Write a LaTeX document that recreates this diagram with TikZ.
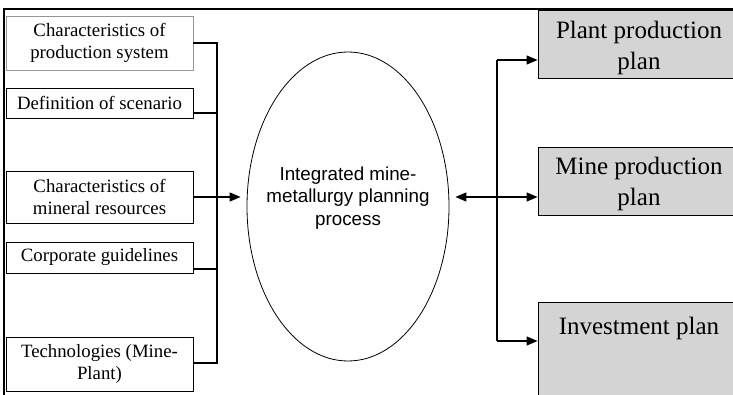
\documentclass[tikz,border=0pt]{standalone}
\usepackage{fontspec}
\setmainfont{Liberation Serif}
\newfontfamily\arialf{Liberation Sans}
\usetikzlibrary{arrows.meta,shapes.geometric,calc}
\definecolor{boxgray}{RGB}{212,212,212}
\definecolor{lightedge}{RGB}{150,150,150}
\begin{document}
\begin{tikzpicture}[x=1pt,y=-1pt,
  lbox/.style={draw, line width=0.9pt, minimum width=187pt, align=center, inner sep=0pt,
    font=\fontsize{18.8}{22}\selectfont},
  rbox/.style={draw, line width=0.9pt, fill=boxgray, minimum width=202pt, inner sep=0pt},
  rtext/.style={align=center, inner sep=0pt, font=\fontsize{25}{31.5}\selectfont},
  conn/.style={line width=1.2pt},
  arr/.style={conn, -{Triangle[length=11pt,width=9pt]}},
  darr/.style={conn, {Triangle[length=11pt,width=9pt]}-{Triangle[length=11pt,width=9pt]}}]
\useasboundingbox (0,0) rectangle (733,395);
\clip (0,0) rectangle (733,395);
% frame
\draw[line width=1.8pt] (4,400) -- (4,9) -- (740,9);
% left boxes
\node[lbox, draw=lightedge, minimum height=54pt] (b1) at (99.5,43) {Characteristics of\\production system};
\node[lbox, minimum height=30pt] (b2) at (99.5,103) {Definition of scenario};
\node[lbox, minimum height=52pt] (b3) at (99.5,197) {Characteristics of\\mineral resources};
\node[lbox, minimum height=31pt] (b4) at (99.5,257.5) {Corporate guidelines};
\node[lbox, minimum height=54pt] (b5) at (99.5,364) {Technologies (Mine-\\Plant)};
% ellipse
\node[ellipse, draw, line width=0.8pt, minimum width=202pt, minimum height=309pt, inner sep=0pt] (ell) at (348,206.5) {};
\node[align=center, inner sep=0pt, font=\arialf\fontsize{18.8}{22.5}\selectfont] (etext) at (348,198) {Integrated mine-\\metallurgy planning\\process};
% right boxes
\node[rbox, minimum height=68pt] (plant) at (639,44) {};
\node[rtext] (plantt) at (639,48) {Plant production\\plan};
\node[rbox, minimum height=68pt] (mine) at (639,181) {};
\node[rtext] (minet) at (639,184) {Mine production\\plan};
\node[rbox, minimum height=100pt, anchor=north] (inv) at (639,302) {};
\node[rtext] (invt) at (639,328) {Investment plan};
% left bus
\coordinate (l1) at (217,43);
\coordinate (l2) at (217,113);
\coordinate (l3) at (217,197);
\coordinate (l4) at (217,269);
\coordinate (l5) at (217,363);
\draw[conn] (l1 -| b1.east) -- (l1) -- (l5) -- (l5 -| b5.east);
\draw[conn] (l2 -| b2.east) -- (l2);
\draw[conn] (l4 -| b4.east) -- (l4);
\draw[arr, shorten >=6pt] (l3 -| b3.east) -- (l3 -| ell.west);
% right bus
\coordinate (jr) at (497,197);
\coordinate (jt) at (497,60);
\coordinate (jb) at (497,341);
\draw[darr, shorten <=6pt] (jr -| ell.east) -- (jr -| mine.west);
\draw[conn] (jt) -- (jb);
\draw[arr] (jt) -- (jt -| plant.west);
\draw[arr] (jb) -- (jb -| inv.west);
\end{tikzpicture}
\end{document}
